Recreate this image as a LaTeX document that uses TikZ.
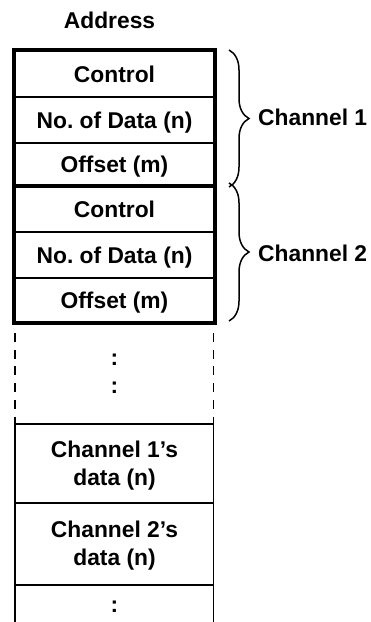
\documentclass[tikz,border=0pt]{standalone}
\usepackage{fontspec}
\setmainfont{Liberation Sans}
\usetikzlibrary{decorations.pathreplacing}
\frenchspacing
\begin{document}
\begin{tikzpicture}[x=1pt,y=-1pt,
  lbl/.style={font=\bfseries\fontsize{22.8}{28}\selectfont, inner sep=0pt, anchor=base},
  mlbl/.style={font=\bfseries\fontsize{22.8}{28}\selectfont, inner sep=0pt, align=center, anchor=center},
  thickline/.style={line width=4.5pt},
  thinline/.style={line width=1.5pt},
  dashline/.style={line width=1.6pt, dash pattern=on 9pt off 7.7pt},
  brc/.style={decorate, decoration={brace, amplitude=20pt}, line width=1.5pt}]
\useasboundingbox (0,0) rectangle (370,622);

% title
\node[lbl] (addr) at (109.5,28) {Address};

% coordinates of the table
\coordinate (tl) at (14,50);
\coordinate (br) at (215,323);

% thin separators
\foreach \yy in {97,143,232,278}
  \draw[thinline] (14,\yy) -- (215,\yy);
% thick frame and channel separator
\draw[thickline] (tl) rectangle (br);
\draw[thickline] (14,186) -- (215,186);

% channel 1 rows
\node[lbl] (c1a) at (114.5,82)  {Control};
\node[lbl] (c1b) at (114.5,128.5) {No.\ of Data (n)};
\node[lbl] (c1c) at (114.5,172.5) {Offset (m)};
% channel 2 rows
\node[lbl] (c2a) at (114.5,217)  {Control};
\node[lbl] (c2b) at (114.5,263.5) {No.\ of Data (n)};
\node[lbl] (c2c) at (114.5,308.5) {Offset (m)};

% braces
\coordinate (b1s) at (229,50);
\coordinate (b1e) at (229,187);
\coordinate (b2s) at (229,183);
\coordinate (b2e) at (229,321);
\draw[brc] (b1s) -- (b1e);
\draw[brc] (b2s) -- (b2e);
\node[lbl, anchor=base west] (ch1) at (258,125) {Channel 1};
\node[lbl, anchor=base west] (ch2) at (258,261) {Channel 2};

% dashed continuation
\draw[dashline] (15,333) -- (15,424);
\draw[dashline] (213.5,333) -- (213.5,424);
\node[lbl] (dots1) at (114.5,365.5) {:};
\node[lbl] (dots2) at (114.5,393.5) {:};

% data area
\draw[thinline] (15,424) -- (15,622);
\draw[thinline] (213.5,424) -- (213.5,622);
\foreach \yy in {424,503,585}
  \draw[thinline] (15,\yy) -- (213.5,\yy);
\node[mlbl] (d1) at (114.5,466) {Channel 1’s\\data (n)};
\node[mlbl] (d2) at (114.5,546) {Channel 2’s\\data (n)};
\node[lbl] (dots3) at (114.5,612.5) {:};
\end{tikzpicture}
\end{document}
